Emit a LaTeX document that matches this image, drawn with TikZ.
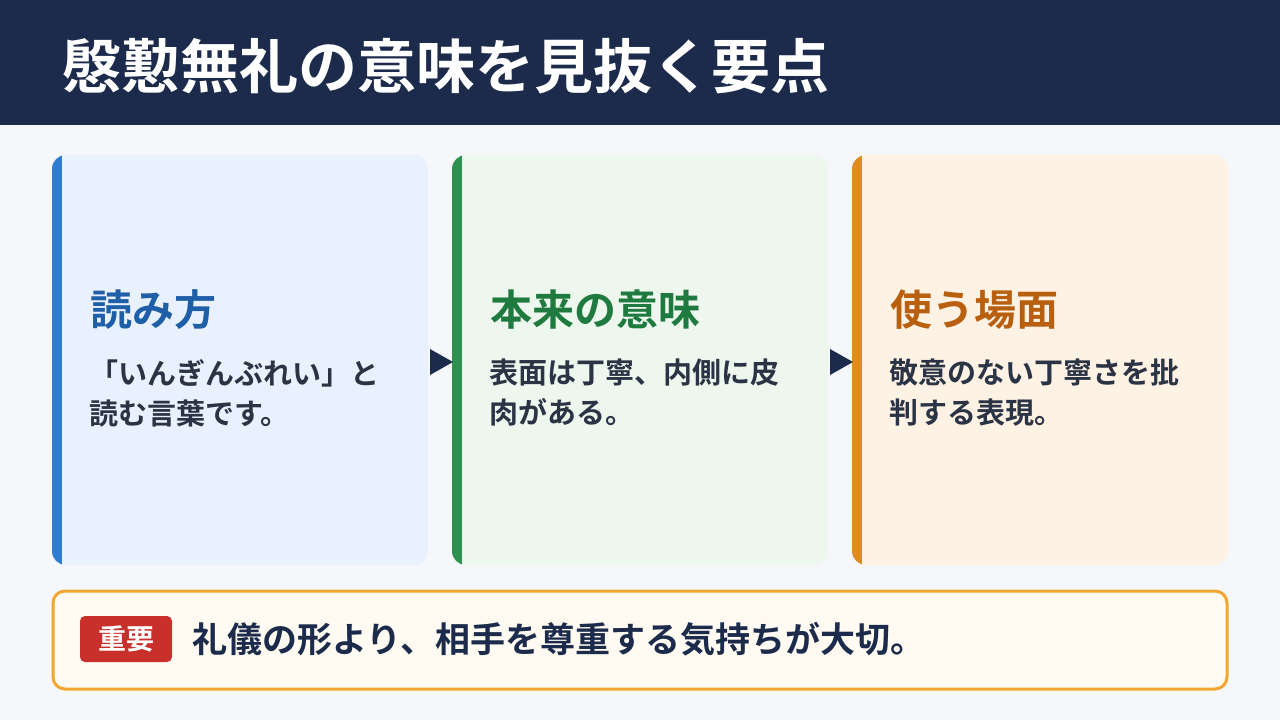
\documentclass[tikz,border=0pt]{standalone}
\usepackage{fontspec}
\setmainfont{Noto Sans CJK JP}[BoldFont={Noto Sans CJK JP Bold}]
\definecolor{navy}{HTML}{1C2B4B}
\definecolor{pagebg}{HTML}{F5F7FB}
\definecolor{ink}{HTML}{2B3445}
\definecolor{blueA}{HTML}{2E7BD0}\definecolor{blueF}{HTML}{E8F1FD}\definecolor{blueT}{HTML}{1F5FA8}
\definecolor{greenA}{HTML}{2E9150}\definecolor{greenF}{HTML}{EDF7EE}\definecolor{greenT}{HTML}{1E7A3E}
\definecolor{orangeA}{HTML}{E08A25}\definecolor{orangeF}{HTML}{FEF2E4}\definecolor{orangeT}{HTML}{B8600F}
\definecolor{noteB}{HTML}{F0A830}\definecolor{noteF}{HTML}{FFFBF2}\definecolor{badge}{HTML}{C9302C}
\tikzset{
  head/.style={anchor=west,inner sep=0pt,font=\bfseries\fontsize{42}{48}\selectfont},
  body/.style={anchor=north west,inner sep=0pt,align=left,text=ink,font=\bfseries\fontsize{29}{40}\selectfont},
  pointer/.style={fill=navy}
}
\begin{document}
\begin{tikzpicture}[x=1pt,y=-1pt]
  \fill[pagebg] (0,0) rectangle (1280,720);
  \fill[navy] (0,0) rectangle (1280,125);
  \node[anchor=west,inner sep=0pt,text=white,font=\bfseries\fontsize{59}{64}\selectfont] (title) at (62,66) {慇懃無礼の意味を見抜く要点};

  % cards
  \foreach \x/\c/\h/\t in {52/blue/読み方/{「いんぎんぶれい」と\\読む言葉です。},
                          452/green/本来の意味/{表面は丁寧、内側に皮\\肉がある。},
                          852/orange/使う場面/{敬意のない丁寧さを批\\判する表現。}}{
    \begin{scope}
      \clip[rounded corners=14pt] (\x,155) rectangle ++(376,410);
      \fill[\c F] (\x,155) rectangle ++(376,410);
      \fill[\c A] (\x,155) rectangle ++(10,410);
    \end{scope}
    \node[head,text=\c T] (h\x) at (\x+38,310) {\h};
    \node[body] (b\x) at (\x+37,359) {\t};
  }

  \fill[pointer] (430,349) -- (453,362) -- (430,375) -- cycle;
  \fill[pointer] (830,349) -- (853,362) -- (830,375) -- cycle;

  % note
  \draw[noteB,fill=noteF,line width=3pt,rounded corners=12pt] (53,591) rectangle (1227,689);
  \node[fill=badge,text=white,rounded corners=5pt,minimum width=92pt,minimum height=46pt,
        font=\bfseries\fontsize{28}{30}\selectfont] (tag) at (126,639) {重要};
  \node[anchor=west,inner sep=0pt,text=navy,font=\bfseries\fontsize{35}{38}\selectfont] (note) at (192,639)
    {礼儀の形より、相手を尊重する気持ちが大切。};
\end{tikzpicture}
\end{document}
